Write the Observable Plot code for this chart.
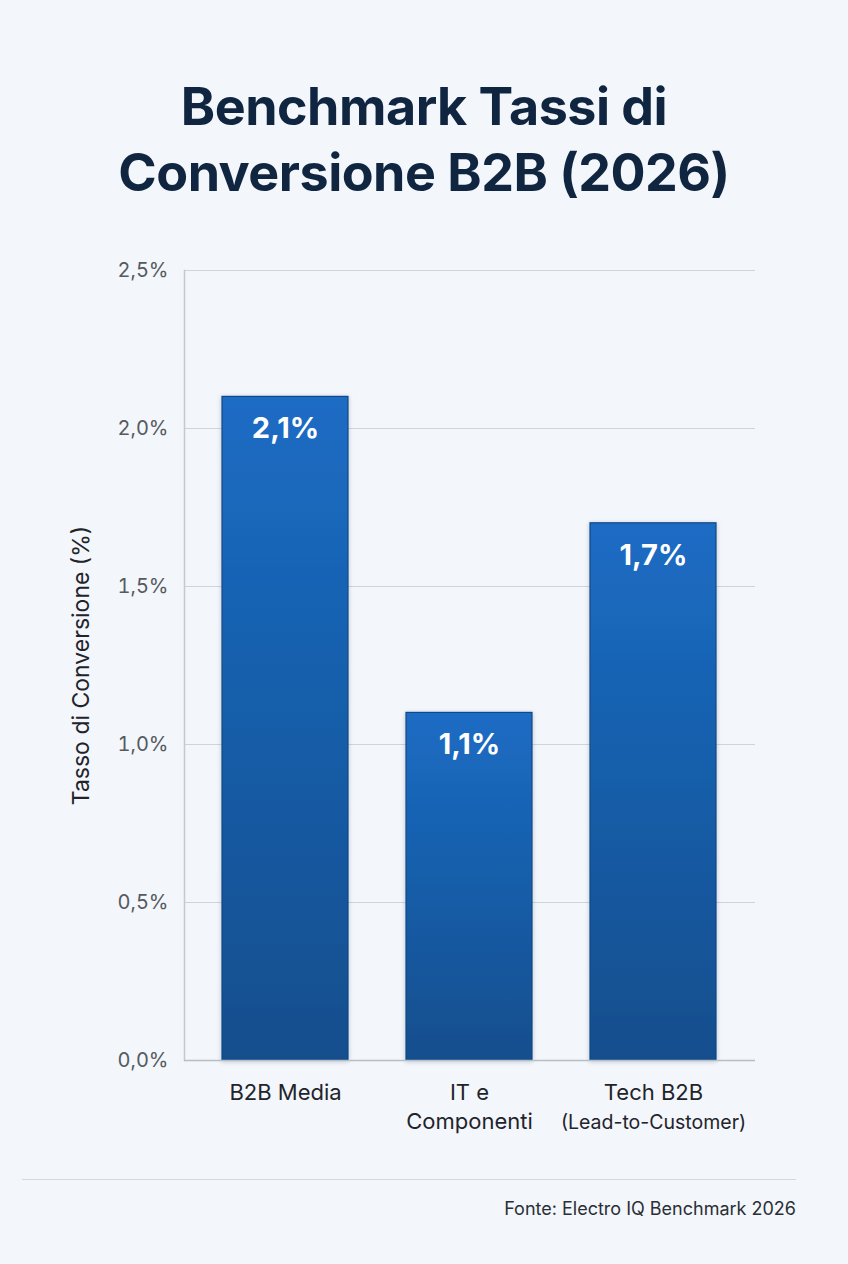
<!DOCTYPE html>
<html>
<head>
<meta charset="utf-8">
<script src="https://cdn.jsdelivr.net/npm/d3@7"></script>
<script src="https://cdn.jsdelivr.net/npm/@observablehq/plot@0.6"></script>
<style>
  html, body { margin: 0; padding: 0; }
  body { width: 848px; height: 1264px; background: #f3f6fa; position: relative; overflow: hidden; font-family: Inter, "Noto Sans", sans-serif; }
  #title { position: absolute; top: 74px; left: 0; width: 848px; text-align: center; font-family: Inter, Roboto, sans-serif; font-weight: 700; font-size: 52px; line-height: 66px; color: #0f2540; letter-spacing: -0.5px; }
  #chart { position: absolute; top: 240px; left: 0; }
  #rule { position: absolute; top: 1179px; left: 22px; width: 774px; height: 0; border-top: 1.5px solid #d3d8df; }
  #source { position: absolute; top: 1198px; right: 52px; font-size: 18px; color: #2a2f36; font-family: Inter, sans-serif; }
</style>
</head>
<body>
<div id="title">Benchmark Tassi di<br>Conversione B2B (2026)</div>
<div id="chart"></div>
<div id="rule"></div>
<div id="source">Fonte: Electro IQ Benchmark 2026</div>
<script>
const categories = ["B2B Media", "IT e Componenti", "Tech B2B (Lead-to-Customer)"];
const values = [2.1, 1.1, 1.7];
const labelLine1 = ["B2B Media", "IT e", "Tech B2B"];
const labelLine2 = ["", "Componenti", "(Lead-to-Customer)"];
const yTicks = [0, 0.5, 1.0, 1.5, 2.0, 2.5];

const data = categories.map((c, i) => ({cat: c, v: values[i], l1: labelLine1[i], l2: labelLine2[i]}));
const fmt = d => d.toFixed(1).replace(".", ",") + "%";

const plot = Plot.plot({
  width: 848,
  height: 910,
  marginTop: 30,
  marginLeft: 184,
  marginRight: 93,
  marginBottom: 90,
  style: {background: "transparent", fontFamily: "Inter, sans-serif"},
  x: {domain: categories, paddingInner: 0.3135, paddingOuter: 0.2, axis: null},
  y: {domain: [0, 2.5]},
  marks: [
    Plot.gridY(yTicks, {stroke: "#cfd4da", strokeOpacity: 1, strokeWidth: 1.2}),
    Plot.axisY(yTicks, {tickFormat: fmt, tickSize: 0, tickPadding: 16, fontSize: 20, color: "#555a60",
      label: "Tasso di Conversione (%)", labelAnchor: "center", labelOffset: 112, labelArrow: "none"}),
    Plot.frame({anchor: "left", stroke: "#c4c9cf", strokeWidth: 1.5}),
    Plot.barY(data, {x: "cat", y: "v", fill: "url(#barGrad)", stroke: "#0f4a88", strokeWidth: 1.2}),
    Plot.ruleY([0], {stroke: "#b8bec5", strokeWidth: 1.5}),
    Plot.text(data, {x: "cat", y: "v", text: d => fmt(d.v), dy: 32, fill: "white", fontSize: 29, fontWeight: 700}),
    Plot.text(data, {x: "cat", text: "l1", frameAnchor: "bottom", dy: 39, fontSize: 22, fill: "#1f242b"}),
    Plot.text(data, {x: "cat", text: "l2", frameAnchor: "bottom", dy: 68, fontSize: d => d.l2.startsWith("(") ? 19.5 : 22, fill: "#1f242b"})
  ]
});

const ns = "http://www.w3.org/2000/svg";
const defs = document.createElementNS(ns, "defs");
defs.innerHTML = `<linearGradient id="barGrad" x1="0" y1="0" x2="0" y2="1" gradientUnits="objectBoundingBox">
  <stop offset="0" stop-color="#1b6cc4"/>
  <stop offset="1" stop-color="#134e8d"/>
</linearGradient>
<filter id="shadow" x="-10%" y="-5%" width="120%" height="110%">
  <feDropShadow dx="0" dy="1" stdDeviation="2" flood-color="#0a2a50" flood-opacity="0.25"/>
</filter>`;
plot.insertBefore(defs, plot.firstChild);
plot.querySelectorAll("g[aria-label='bar']").forEach(g => g.setAttribute("filter", "url(#shadow)"));
const lab = plot.querySelector("g[aria-label='y-axis label'] text");
if (lab) { lab.setAttribute("fill", "#1f242b"); lab.style.fontSize = "23px"; }
const lg = plot.querySelector("g[aria-label='y-axis label']");
if (lg) { lg.setAttribute("font-size", "23"); lg.setAttribute("fill", "#1f242b"); }
document.getElementById("chart").appendChild(plot);
</script>
</body>
</html>
